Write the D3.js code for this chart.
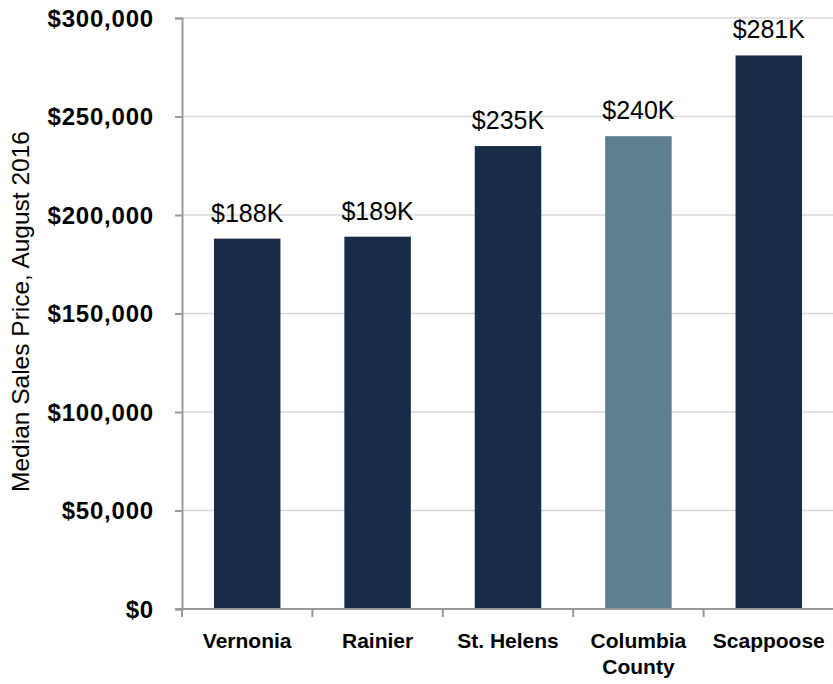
<!DOCTYPE html>
<html>
<head>
<meta charset="utf-8">
<script src="https://cdn.jsdelivr.net/npm/d3@7"></script>
<style>
  html, body { margin: 0; padding: 0; background: #fff; }
  svg { display: block; }
  text { font-family: "Liberation Sans", Arial, sans-serif; fill: #000; }
</style>
</head>
<body>
<svg id="chart" width="833" height="684"></svg>
<script>
// Median sales price by city, August 2016
const categories = ["Vernonia", "Rainier", "St. Helens", "Columbia County", "Scappoose"];
const prices = [188000, 189000, 235000, 240000, 281000];
const barLabels = ["$188K", "$189K", "$235K", "$240K", "$281K"];
const yTicks = [0, 50000, 100000, 150000, 200000, 250000, 300000];
const highlight = "Columbia County";

const svg = d3.select("#chart");
const margin = { top: 18, right: -1, bottom: 75, left: 182 };
const W = 833, H = 684;
const x0 = margin.left, x1 = W - margin.right;
const y0 = H - margin.bottom, y1 = margin.top;

const x = d3.scaleBand()
  .domain(categories)
  .range([x0, x1])
  .paddingInner(0.49)
  .paddingOuter(0.245);

const y = d3.scaleLinear().domain([0, 300000]).range([y0, y1]);

// Horizontal gridlines
svg.append("g")
  .selectAll("line")
  .data(yTicks.filter(d => d > 0))
  .join("line")
  .attr("x1", x0).attr("x2", x1)
  .attr("y1", d => y(d)).attr("y2", d => y(d))
  .attr("stroke", "#d9d9d9")
  .attr("stroke-width", 1.5);

// Bars
svg.append("g")
  .selectAll("rect")
  .data(categories)
  .join("rect")
  .attr("x", d => x(d))
  .attr("width", x.bandwidth())
  .attr("y", (d, i) => y(prices[i]))
  .attr("height", (d, i) => y(0) - y(prices[i]))
  .attr("fill", d => d === highlight ? "#5e7f92" : "#172d47");

// Value labels above bars
svg.append("g")
  .selectAll("text")
  .data(categories)
  .join("text")
  .attr("x", d => x(d) + x.bandwidth() / 2)
  .attr("y", (d, i) => y(prices[i]) - 17)
  .attr("text-anchor", "middle")
  .style("font-size", "25px")
  .text((d, i) => barLabels[i]);

// Y axis
const yAxis = svg.append("g")
  .attr("transform", `translate(${x0},0)`)
  .call(d3.axisLeft(y)
    .tickValues(yTicks)
    .tickSize(7)
    .tickPadding(21)
    .tickFormat(d => "$" + d3.format(",")(d)));
yAxis.select(".domain").attr("stroke", "#999").attr("stroke-width", 2);
yAxis.selectAll(".tick line").attr("stroke", "#999").attr("stroke-width", 2);
yAxis.selectAll(".tick text")
  .style("font-size", "24px")
  .style("font-weight", "bold")
  .style("letter-spacing", "0.8px")
  .attr("dy", "0.35em");

// X axis baseline
svg.append("line")
  .attr("x1", x0 - 7).attr("x2", x1)
  .attr("y1", y0).attr("y2", y0)
  .attr("stroke", "#999")
  .attr("stroke-width", 2);

// Category boundary ticks
const step = x.step();
const bounds = categories.map(d => x(d) - step * x.paddingInner() / 2);
bounds.push(bounds[bounds.length - 1] + step);
svg.append("g")
  .selectAll("line")
  .data(bounds)
  .join("line")
  .attr("x1", d => d).attr("x2", d => d)
  .attr("y1", y0).attr("y2", y0 + 8)
  .attr("stroke", "#999")
  .attr("stroke-width", 2);

// Category labels (wrapped on spaces for the two-word county name)
const xLabels = svg.append("g")
  .selectAll("text")
  .data(categories)
  .join("text")
  .attr("x", d => x(d) + x.bandwidth() / 2)
  .attr("y", y0 + 39)
  .attr("text-anchor", "middle")
  .style("font-size", "21px")
  .style("font-weight", "bold");
xLabels.each(function(d) {
  const words = d === "Columbia County" ? ["Columbia", "County"] : [d];
  const t = d3.select(this);
  words.forEach((w, i) => {
    t.append("tspan")
      .attr("x", x(d) + x.bandwidth() / 2)
      .attr("dy", i === 0 ? 0 : 26)
      .text(w);
  });
});

// Y axis title
svg.append("text")
  .attr("transform", `translate(29, ${(y0 + y1) / 2 - 2}) rotate(-90)`)
  .attr("text-anchor", "middle")
  .style("font-size", "24.5px")
  .text("Median Sales Price, August 2016");
</script>
</body>
</html>
